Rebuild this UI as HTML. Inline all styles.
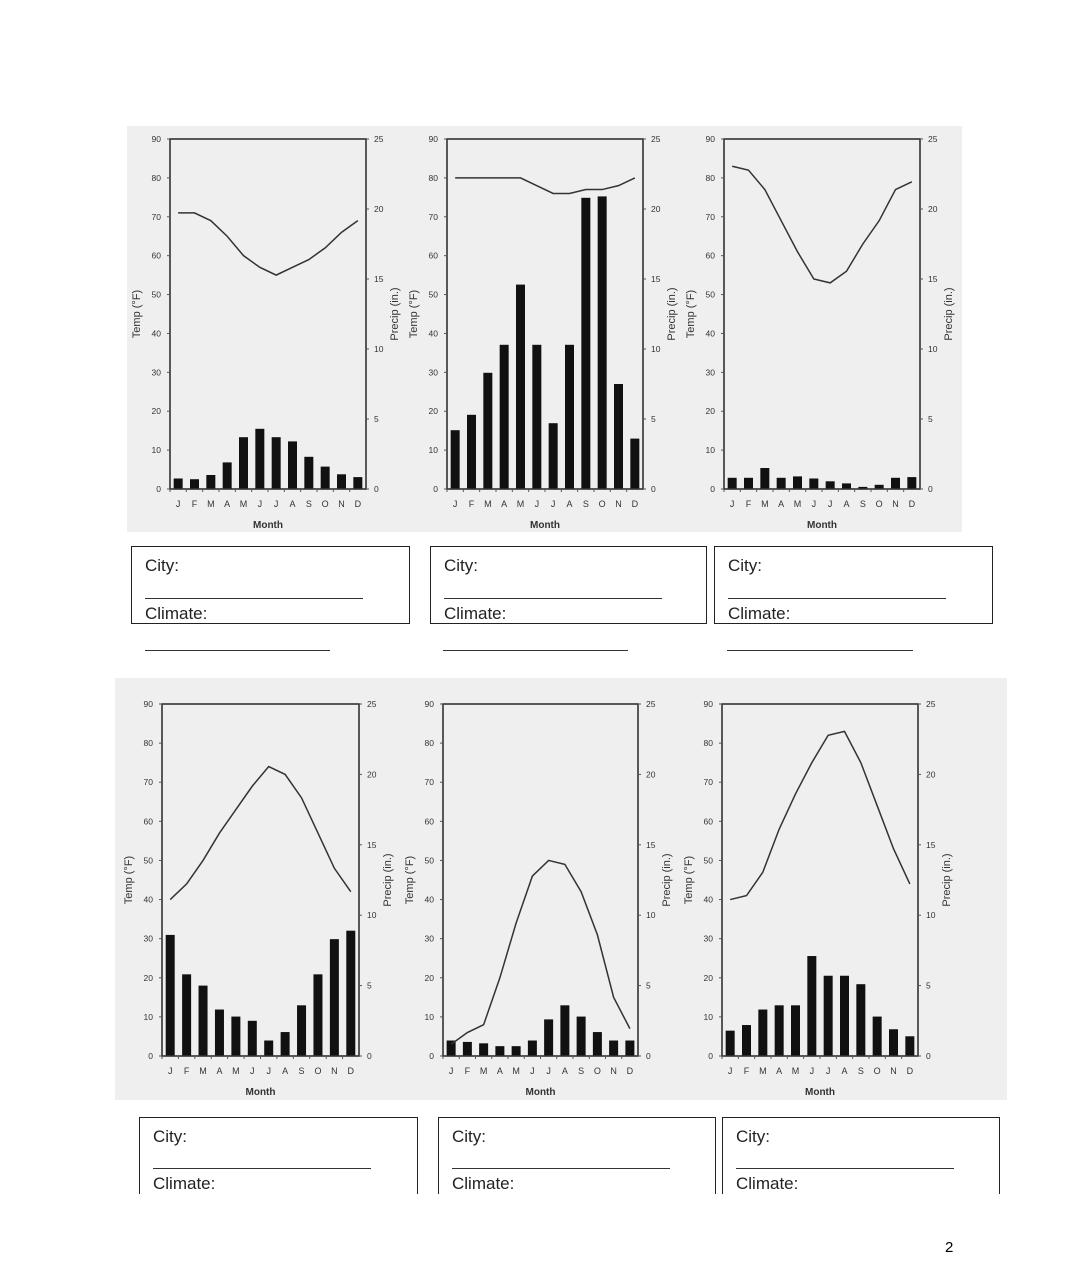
<!DOCTYPE html>
<html><head><meta charset="utf-8">
<style>
html,body{margin:0;padding:0;background:#fff;}
body{width:1082px;height:1280px;position:relative;overflow:hidden;font-family:"Liberation Sans",Arial,sans-serif;}
.bg{position:absolute;background:#efefef;}
.box{position:absolute;border:1.5px solid #222;box-sizing:border-box;overflow:hidden;background:#fff;}
.lbl{position:absolute;left:13px;font-size:17px;color:#222;}
.ul{position:absolute;height:0;border-top:1.5px solid #333;}
.pg{position:absolute;left:945px;top:1239px;font-size:15px;}
svg text{font-family:"Liberation Sans",Arial,sans-serif;fill:#333;}
</style></head>
<body>
<div class="bg" style="left:127px;top:126px;width:835px;height:406px;"></div>
<div class="bg" style="left:115px;top:678px;width:892px;height:422px;"></div>
<svg id="charts" width="1082" height="1280" style="position:absolute;left:0;top:0"></svg>

<div class="box" style="left:131px;top:546px;width:279px;height:78px;"><div class="lbl" style="top:9px">City:</div><div class="ul" style="left:13px;width:218px;top:51px"></div><div class="lbl" style="top:57px">Climate:</div></div>
<div class="box" style="left:430px;top:546px;width:277px;height:78px;"><div class="lbl" style="top:9px">City:</div><div class="ul" style="left:13px;width:218px;top:51px"></div><div class="lbl" style="top:57px">Climate:</div></div>
<div class="box" style="left:714px;top:546px;width:279px;height:78px;"><div class="lbl" style="top:9px">City:</div><div class="ul" style="left:13px;width:218px;top:51px"></div><div class="lbl" style="top:57px">Climate:</div></div>
<div class="ul" style="left:145px;width:185px;top:650px"></div>
<div class="ul" style="left:443px;width:185px;top:650px"></div>
<div class="ul" style="left:727px;width:186px;top:650px"></div>

<div class="box" style="left:139px;top:1117px;width:279px;height:77px;border-bottom:none"><div class="lbl" style="top:9px">City:</div><div class="ul" style="left:13px;width:218px;top:50px"></div><div class="lbl" style="top:56px">Climate:</div></div>
<div class="box" style="left:438px;top:1117px;width:278px;height:77px;border-bottom:none"><div class="lbl" style="top:9px">City:</div><div class="ul" style="left:13px;width:218px;top:50px"></div><div class="lbl" style="top:56px">Climate:</div></div>
<div class="box" style="left:722px;top:1117px;width:278px;height:77px;border-bottom:none"><div class="lbl" style="top:9px">City:</div><div class="ul" style="left:13px;width:218px;top:50px"></div><div class="lbl" style="top:56px">Climate:</div></div>
<div class="pg">2</div>

<script>
const months = ["J","F","M","A","M","J","J","A","S","O","N","D"];
const tempTicks = [0,10,20,30,40,50,60,70,80,90];
const precipTicks = [0,5,10,15,20,25];
const temp1 = [71,71,69,65,60,57,55,57,59,62,66,69];
const precip1 = [0.75,0.7,1.0,1.9,3.7,4.3,3.7,3.4,2.3,1.6,1.05,0.85];
const temp2 = [80,80,80,80,80,78,76,76,77,77,78,80];
const precip2 = [4.2,5.3,8.3,10.3,14.6,10.3,4.7,10.3,20.8,20.9,7.5,3.6];
const temp3 = [83,82,77,69,61,54,53,56,63,69,77,79];
const precip3 = [0.8,0.8,1.5,0.8,0.9,0.75,0.55,0.4,0.15,0.3,0.8,0.85];
const temp4 = [40,44,50,57,63,69,74,72,66,57,48,42];
const precip4 = [8.6,5.8,5.0,3.3,2.8,2.5,1.1,1.7,3.6,5.8,8.3,8.9];
const temp5 = [3,6,8,20,34,46,50,49,42,31,15,7];
const precip5 = [1.1,1.0,0.9,0.7,0.7,1.1,2.6,3.6,2.8,1.7,1.1,1.1];
const temp6 = [40,41,47,58,67,75,82,83,75,64,53,44];
const precip6 = [1.8,2.2,3.3,3.6,3.6,7.1,5.7,5.7,5.1,2.8,1.9,1.4];

const svg = document.getElementById('charts');
const NS = 'http://www.w3.org/2000/svg';
function mk(tag, attrs, parent){const e=document.createElementNS(NS,tag);for(const k in attrs)e.setAttribute(k,attrs[k]);(parent||svg).appendChild(e);return e;}

function chart(idx, L, R, T, B, temps, precs){
  const g = mk('g',{});
  
  
  const w = R-L, step = w/12;
  const xC = i => L + step*(i+0.5);
  const yT = v => B - (v/90)*(B-T);
  const yP = v => B - (v/25)*(B-T);
  // bars
  precs.forEach((p,i)=>{
    const r = mk('rect',{x:xC(i)-4.5,y:yP(p),width:9,height:B-yP(p),fill:'#111'},g);
    
    
  });
  // frame
  const f = mk('rect',{x:L,y:T,width:w,height:B-T,fill:'none',stroke:'#333','stroke-width':1.6},g);
  
  
  // temp line
  const pl = mk('polyline',{points:temps.map((t,i)=>xC(i)+','+yT(t)).join(' '),fill:'none',stroke:'#333','stroke-width':1.5},g);
  
  
  // left ticks
  tempTicks.forEach(v=>{
    mk('line',{x1:L-3,x2:L,y1:yT(v),y2:yT(v),stroke:'#555','stroke-width':1},g);
    const t = mk('text',{x:L-9,y:yT(v)+3,'font-size':8.5,'text-anchor':'end'},g);
    
    
    t.textContent=v;
  });
  precipTicks.forEach(v=>{
    mk('line',{x1:R,x2:R+3,y1:yP(v),y2:yP(v),stroke:'#555','stroke-width':1},g);
    const t = mk('text',{x:R+8,y:yP(v)+3,'font-size':8.5,'text-anchor':'start'},g);
    
    
    t.textContent=v;
  });
  months.forEach((m,i)=>{
    mk('line',{x1:L+step*i,x2:L+step*i,y1:B,y2:B+3,stroke:'#555','stroke-width':1},g);
    const t = mk('text',{x:xC(i),y:B+18,'font-size':9,'text-anchor':'middle'},g);
    
    
    t.textContent=m;
  });
  const mt = mk('text',{x:(L+R)/2,y:B+39,'font-size':10,'font-weight':'bold','text-anchor':'middle'},g);
  
  
  mt.textContent='Month';
  const cy=(T+B)/2;
  const ty = mk('text',{x:L-30,y:cy,'font-size':11,'text-anchor':'middle',transform:'rotate(-90 '+(L-30)+' '+cy+')'},g);
  
  
  ty.textContent='Temp (°F)';
  const py = mk('text',{x:R+32,y:cy,'font-size':11,'text-anchor':'middle',transform:'rotate(-90 '+(R+32)+' '+cy+')'},g);
  
  
  py.textContent='Precip (in.)';
}
chart(1,170,366,139,489,temp1,precip1);
chart(2,447,643,139,489,temp2,precip2);
chart(3,724,920,139,489,temp3,precip3);
chart(4,162,359,704,1056,temp4,precip4);
chart(5,443,638,704,1056,temp5,precip5);
chart(6,722,918,704,1056,temp6,precip6);
</script>
</body></html>
